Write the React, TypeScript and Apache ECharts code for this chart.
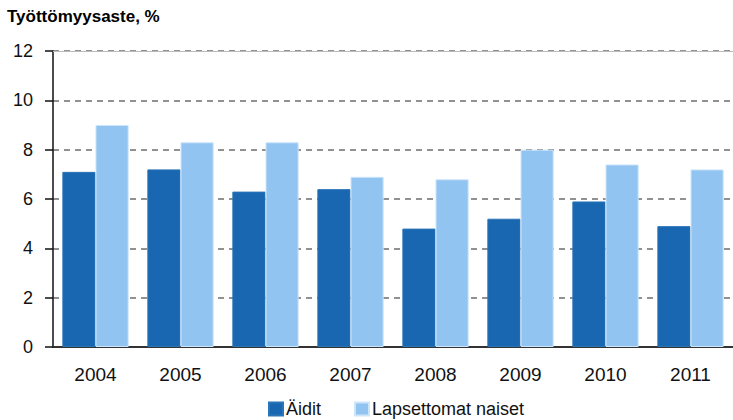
import React, { useEffect, useRef } from "react";
import * as echarts from "echarts";

const years = ["2004", "2005", "2006", "2007", "2008", "2009", "2010", "2011"];
const aidit = [7.1, 7.2, 6.3, 6.4, 4.8, 5.2, 5.9, 4.9];
const lapsettomat = [9.0, 8.3, 8.3, 6.9, 6.8, 8.0, 7.4, 7.2];
const seriesNames = ["Äidit", "Lapsettomat naiset"];
const titleText = "Työttömyysaste, %";

const FONT = "'Liberation Sans', Arial, sans-serif";

export default function App() {
  const ref = useRef<HTMLDivElement>(null);
  useEffect(() => {
    if (!ref.current) return;
    const chart = echarts.init(ref.current, null, { renderer: "svg" });
    chart.setOption({
      animation: false,
      backgroundColor: "#ffffff",
      title: {
        text: titleText,
        left: 7,
        top: 8,
        padding: 0,
        textStyle: { fontFamily: FONT, fontSize: 17, fontWeight: "bold", color: "#000" },
      },
      legend: {
        left: 268,
        top: 400,
        padding: 0,
        icon: "rect",
        itemWidth: 14,
        itemHeight: 13,
        itemGap: 33,
        textStyle: { fontFamily: FONT, fontSize: 18, lineHeight: 18, color: "#111", padding: [0, 0, 0, -2] },
        data: seriesNames,
      },
      grid: { left: 53, right: 0, top: 51, bottom: 73, containLabel: false },
      xAxis: [
        {
          type: "category",
          data: years,
          axisLine: { show: true, lineStyle: { color: "#333", width: 2 } },
          axisTick: { show: false },
          axisLabel: { fontFamily: FONT, fontSize: 19, color: "#111", margin: 18 },
        },
        {
          type: "category",
          position: "top",
          data: years,
          axisLine: { show: true, lineStyle: { color: "#bbb", width: 1 } },
          axisTick: { show: false },
          axisLabel: { show: false },
        },
      ],
      yAxis: {
        type: "value",
        min: 0,
        max: 12,
        interval: 2,
        axisLine: { show: true, lineStyle: { color: "#111", width: 1.5 } },
        axisTick: { show: true, length: 8, lineStyle: { color: "#111", width: 1.5 } },
        axisLabel: { fontFamily: FONT, fontSize: 18, color: "#111", margin: 20 },
        splitLine: { show: true, lineStyle: { color: "#6e6e6e", width: 1.5, type: [6, 5] } },
      },
      series: [
        {
          name: seriesNames[0],
          type: "bar",
          data: aidit,
          barGap: "0%",
          barCategoryGap: "22%",
          itemStyle: { color: "#1967b0", borderColor: "#2a74b8", borderWidth: 1 },
        },
        {
          name: seriesNames[1],
          type: "bar",
          data: lapsettomat,
          barGap: "0%",
          barCategoryGap: "22%",
          itemStyle: { color: "#91c4f0", borderColor: "#cde5fa", borderWidth: 1 },
        },
      ],
    });
    return () => chart.dispose();
  }, []);
  return (
    <div
      ref={ref}
      style={{ position: "absolute", left: 0, top: 0, width: 733, height: 420 }}
    />
  );
}
